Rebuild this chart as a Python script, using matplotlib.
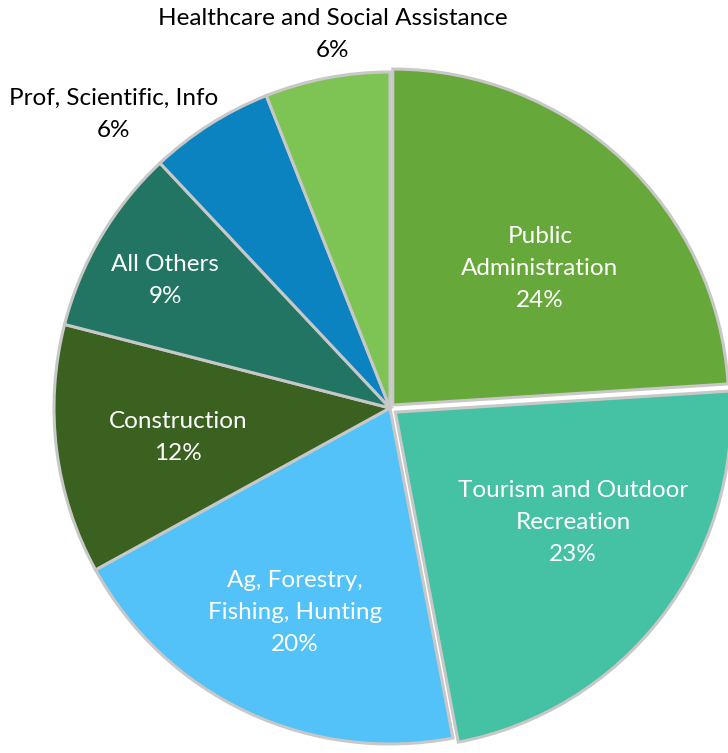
import numpy as np
import matplotlib
matplotlib.use("Agg")
import matplotlib.pyplot as plt

plt.rcParams['font.family'] = ['Lato', 'DejaVu Sans']

labels = ["Public\nAdministration", "Tourism and Outdoor\nRecreation",
          "Ag, Forestry,\nFishing, Hunting", "Construction", "All Others",
          "Prof, Scientific, Info", "Healthcare and Social Assistance"]
shares = [24, 23, 20, 12, 9, 6, 6]
colors = ["#67a83a", "#45c1a3", "#52c2f8", "#3b6121", "#237563", "#0a83c0", "#7ec455"]
explode = [0.012, 0.02, 0, 0, 0, 0, 0]
# label placement: radius fraction and angle (degrees)
label_r = [0.61, 0.643, 0.672, 0.637, 0.77, 1.2, 1.125]
label_ang = [43, -32, -114.9, -172, 150.4, 133.2, 98.7]
inside = [True, True, True, True, True, False, False]

W, H = 728, 753
fig = plt.figure(figsize=(W / 100, H / 100), dpi=100)
cx, cy, R = 390, 408, 336
ax = fig.add_axes([(cx - R) / W, (H - cy - R) / H, 2 * R / W, 2 * R / H])

wedges, _ = ax.pie(shares, colors=colors, startangle=90, counterclock=False,
                   explode=explode, radius=1,
                   wedgeprops=dict(edgecolor="#c8c8c8", linewidth=2.2))

for lab, s, r, a, ins in zip(labels, shares, label_r, label_ang, inside):
    t = np.deg2rad(a)
    ax.text(r * np.cos(t), r * np.sin(t), f"{lab}\n{s}%",
            ha="center", va="center", fontsize=17.5, linespacing=1.65,
            color="white" if ins else "black")

ax.set_xlim(-1, 1)
ax.set_ylim(-1, 1)
ax.set_aspect("equal")
ax.axis("off")

fig.savefig("out.png", dpi=100)
